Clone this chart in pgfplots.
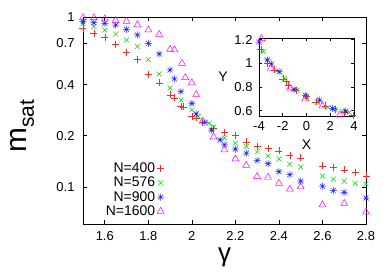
\documentclass[border=0pt]{standalone}
\usepackage{fontspec}
\setmainfont{Liberation Sans}
\usepackage{pgfplots}
\pgfplotsset{compat=1.18}
\pgfdeclareplotmark{gstar}{%
  \pgfpathmoveto{\pgfqpoint{-\pgfplotmarksize}{0pt}}%
  \pgfpathlineto{\pgfqpoint{\pgfplotmarksize}{0pt}}%
  \pgfpathmoveto{\pgfqpoint{0pt}{-\pgfplotmarksize}}%
  \pgfpathlineto{\pgfqpoint{0pt}{\pgfplotmarksize}}%
  \pgfpathmoveto{\pgfqpoint{-0.707\pgfplotmarksize}{-0.707\pgfplotmarksize}}%
  \pgfpathlineto{\pgfqpoint{0.707\pgfplotmarksize}{0.707\pgfplotmarksize}}%
  \pgfpathmoveto{\pgfqpoint{-0.707\pgfplotmarksize}{0.707\pgfplotmarksize}}%
  \pgfpathlineto{\pgfqpoint{0.707\pgfplotmarksize}{-0.707\pgfplotmarksize}}%
  \pgfusepathqstroke}
\definecolor{gred}{RGB}{255,40,40}
\definecolor{ggreen}{RGB}{0,220,0}
\definecolor{gblue}{RGB}{30,30,255}
\definecolor{gmag}{RGB}{255,0,255}
\pgfplotsset{
  gp/.style={
    scale only axis,
    tick align=inside,
    major tick length=4bp,
    axis line style={black, line width=0.7pt},
    tick style={black, line width=0.6pt},
    /pgf/number format/assume math mode=true,
    ticklabel style={font=\fontsize{13}{13}\selectfont},
  },
  s1/.style={only marks, mark=+, mark size=3.5bp, gred, line width=0.5pt},
  s2/.style={only marks, mark=x, mark size=3.5bp, ggreen, line width=0.5pt},
  s3/.style={only marks, mark=gstar, mark size=3.5bp, gblue, line width=0.5pt},
  s4/.style={only marks, mark=triangle, mark size=4bp, gmag, line width=0.5pt},
}
\begin{document}
\begin{tikzpicture}
\useasboundingbox (-83bp,-49bp) rectangle (306bp,224bp);
\begin{axis}[gp,
  at={(0,0)}, anchor=south west,
  width=283bp, height=207bp,
  xmin=1.5, xmax=2.8,
  ymode=log, ymin=0.0605, ymax=1,
  xtick={1.6,1.8,2.0,2.2,2.4,2.6,2.8},
  xticklabels={1.6,1.8,2,2.2,2.4,2.6,2.8},
  ytick={0.1,0.2,0.4,0.7,1},
  yticklabels={0.1,0.2,0.4,0.7,1},
  yminorticks=false,
  xticklabel style={yshift=-4bp},
  yticklabel style={xshift=-5bp},
  xlabel={\fontsize{26}{26}\selectfont γ},
  xlabel style={at={(axis description cs:0.5,-0.16)}, anchor=center},
  ylabel={\fontsize{30}{30}\selectfont m\raisebox{-0.25em}{\fontsize{21}{21}\selectfont sat}},
  ylabel style={at={(axis description cs:-0.215,0.473)}, anchor=center},
  legend plot pos=right,
  legend cell align=right,
  legend style={draw=none, fill=none, font=\fontsize{14}{14}\selectfont,
    at={(axis description cs:0.298,0.315)}, anchor=north east, row sep=-1bp},
]
\addplot[s1] coordinates {(1.5,0.86)(1.55,0.80)(1.6,0.76)(1.65,0.69)(1.7,0.62)(1.75,0.565)(1.8,0.46)(1.85,0.41)(1.9,0.348)(1.92,0.334)(1.95,0.297)(1.96,0.296)(2.0,0.26)(2.02,0.255)(2.05,0.241)(2.1,0.22)(2.15,0.209)(2.2,0.202)(2.25,0.184)(2.3,0.174)(2.35,0.168)(2.4,0.163)(2.45,0.153)(2.5,0.148)(2.6,0.133)(2.65,0.13)(2.7,0.126)(2.75,0.122)(2.8,0.116)};
\addlegendentry{N=400}
\addplot[s2] coordinates {(1.5,0.91)(1.55,0.877)(1.6,0.839)(1.65,0.794)(1.7,0.732)(1.75,0.672)(1.8,0.561)(1.85,0.462)(1.9,0.382)(1.95,0.325)(2.0,0.284)(2.03,0.26)(2.08,0.237)(2.1,0.225)(2.15,0.194)(2.2,0.181)(2.25,0.173)(2.3,0.161)(2.35,0.152)(2.4,0.146)(2.45,0.136)(2.5,0.131)(2.6,0.116)(2.65,0.111)(2.7,0.108)(2.75,0.105)(2.8,0.104)};
\addlegendentry{N=576}
\addplot[s3] coordinates {(1.5,0.938)(1.55,0.926)(1.6,0.918)(1.65,0.897)(1.7,0.847)(1.75,0.784)(1.8,0.70)(1.85,0.606)(1.9,0.488)(1.92,0.432)(1.95,0.364)(2.0,0.31)(2.02,0.269)(2.06,0.24)(2.09,0.216)(2.13,0.189)(2.15,0.177)(2.2,0.167)(2.25,0.158)(2.3,0.143)(2.35,0.137)(2.4,0.123)(2.45,0.118)(2.5,0.108)(2.6,0.101)(2.65,0.095)(2.7,0.093)(2.8,0.086)};
\addlegendentry{N=900}
\addplot[s4] coordinates {(1.5,0.99)(1.55,0.99)(1.6,0.975)(1.65,0.953)(1.7,0.943)(1.75,0.90)(1.8,0.839)(1.85,0.79)(1.9,0.646)(1.92,0.64)(1.955,0.534)(1.97,0.44)(2.0,0.41)(2.02,0.35)(2.05,0.244)(2.1,0.197)(2.15,0.165)(2.2,0.146)(2.25,0.134)(2.3,0.115)(2.35,0.114)(2.4,0.105)(2.45,0.097)(2.5,0.1)(2.6,0.0784)(2.7,0.08)(2.8,0.071)};
\addlegendentry{N=1600}
\end{axis}
\begin{axis}[gp,
  at={(176bp,108bp)}, anchor=south west,
  width=95bp, height=78bp,
  xmin=-4, xmax=4, ymin=0.555, ymax=1.215,
  xtick={-4,-2,0,2,4}, xticklabels={-4,-2,0,2,4},
  ytick={0.6,0.8,1,1.2}, yticklabels={0.6,0.8,1,1.2},
  major tick length=3bp,
  xticklabel style={yshift=-2bp},
  yticklabel style={xshift=-3bp},
  xlabel={\fontsize{14}{14}\selectfont X},
  xlabel style={at={(axis description cs:0.5,-0.37)}, anchor=center},
  ylabel={\fontsize{14}{14}\selectfont Y},
  ylabel style={rotate=-90, at={(axis description cs:-0.38,0.5)}, anchor=center},
]
\addplot[s1] coordinates {(-3.85,1.12)(-3.3,1.0)(-2.7,0.945)(-2.0,0.87)(-1.7,0.845)(-1.5,0.815)(-0.9,0.77)(0.0,0.72)(0.8,0.675)(1.6,0.64)(2.4,0.61)(3.2,0.585)(3.9,0.56)};
\addplot[s2] coordinates {(-3.65,1.10)(-2.3,0.93)(-1.85,0.875)(-0.8,0.775)(0,0.72)(0.9,0.67)(1.8,0.63)(2.4,0.61)(3.0,0.595)(3.6,0.585)};
\addplot[s3] coordinates {(-4.0,1.18)(-3.3,1.03)(-2.95,0.995)(-2.3,0.93)(-1.05,0.78)(-0.1,0.73)(1.1,0.69)(2.2,0.62)(3.3,0.596)};
\addplot[s4] coordinates {(-3.8,1.21)(-3.0,0.96)(-1.4,0.79)(-0.1,0.70)(1.35,0.64)(2.8,0.565)};
\end{axis}
\end{tikzpicture}
\end{document}
